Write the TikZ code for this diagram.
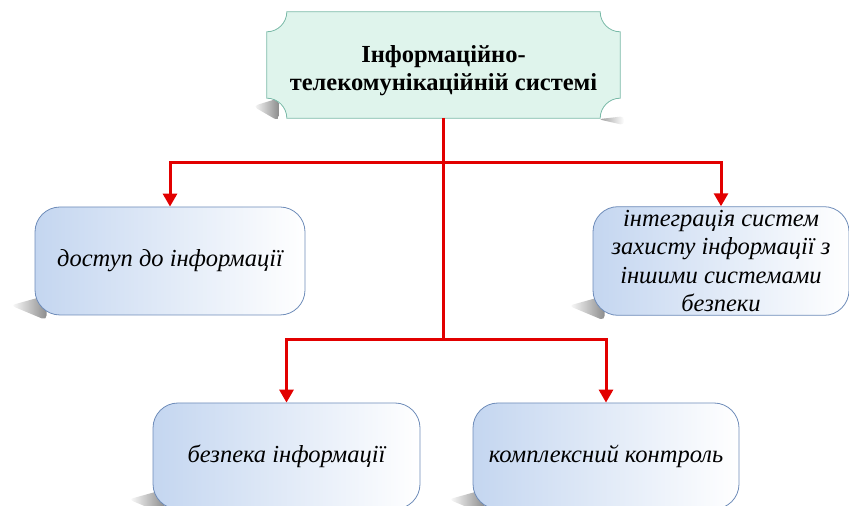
\documentclass[tikz,border=0pt]{standalone}
\usepackage{fontspec}
\setmainfont{Liberation Serif}
\definecolor{plaqueFill}{RGB}{223, 244, 236}
\definecolor{plaqueLine}{RGB}{122, 186, 168}
\definecolor{boxBlue}{RGB}{196, 214, 240}
\definecolor{boxLine}{RGB}{110, 140, 185}
\definecolor{linkRed}{RGB}{226, 0, 0}
\usetikzlibrary{arrows.meta, positioning, backgrounds}

\begin{document}
\begin{tikzpicture}[
        x=1pt, y=1pt,
        topic/.style={rectangle, minimum width=353pt, minimum height=106pt},
        title/.style={align=center, font=\fontsize{24.5}{28}\selectfont\bfseries},
        item/.style={rectangle, rounded corners=25pt, draw=boxLine, thick, left color=boxBlue, middle color=white, right color=white, minimum height=108pt, align=center, font=\fontsize{24.5}{28.5}\selectfont\itshape},
        link/.style={draw=linkRed, line width=3pt, -{Triangle[width=14pt, length=13pt]}},
        shadowfill/.style={left color=white, right color=black!45, rounded corners=5pt}
    ]
        \useasboundingbox (0,0) rectangle (849,506);

        % Top plaque
        \node[topic] (top) at (443.5,441) {};
        \node[title] (toptitle) at (443.5,435) {Інформаційно-\\телекомунікаційній системі};

        % Items
        \node[item, minimum width=270pt] (access) at (170,245) {доступ до інформації};
        \node[item, minimum width=256pt] (integr) at (721,245) {інтеграція систем\\захисту інформації з\\іншими системами\\безпеки};
        \node[item, minimum width=267pt, minimum height=106pt] (secur) at (286.5,50) {безпека інформації};
        \node[item, minimum width=266pt, minimum height=106pt] (control) at (606,50) {комплексний контроль};

        % Shadows and plaque outline
        \begin{scope}[on background layer]
            \foreach \n in {access, integr, secur, control} {
                \shade[shadowfill] ([shift={(-24,10)}]\n.south west) -- ([shift={(12,20)}]\n.south west)
                    -- ([shift={(12,-5)}]\n.south west) -- cycle;
            }
            \shade[shadowfill] ([shift={(-14,12)}]top.south west) -- ([shift={(12,20)}]top.south west)
                -- ([shift={(12,-3)}]top.south west) -- cycle;
            \shade[left color=black!40, right color=white, rounded corners=4pt] ([shift={(-22,-1)}]top.south east)
                -- ([shift={(4,2)}]top.south east) -- ([shift={(4,-7)}]top.south east) -- cycle;
            \draw[plaqueLine, thick, fill=plaqueFill] ([xshift=20pt]top.north west) -- ([xshift=-20pt]top.north east)
                arc[start angle=180, end angle=270, radius=20pt] -- ([yshift=20pt]top.south east)
                arc[start angle=90, end angle=180, radius=20pt] -- ([xshift=20pt]top.south west)
                arc[start angle=0, end angle=90, radius=20pt] -- ([yshift=-20pt]top.north west)
                arc[start angle=270, end angle=360, radius=20pt] -- cycle;
        \end{scope}

        % Junctions
        \coordinate (j1) at (443.5,343);
        \coordinate (j2) at (443.5,166);

        % Connectors
        \draw[linkRed, line width=3pt] (top.south) -- (j2);
        \draw[link] (j1) -| (access.north);
        \draw[link] (j1) -| (integr.north);
        \draw[link] (j2) -| (secur.north);
        \draw[link] (j2) -| (control.north);
    \end{tikzpicture}
\end{document}
